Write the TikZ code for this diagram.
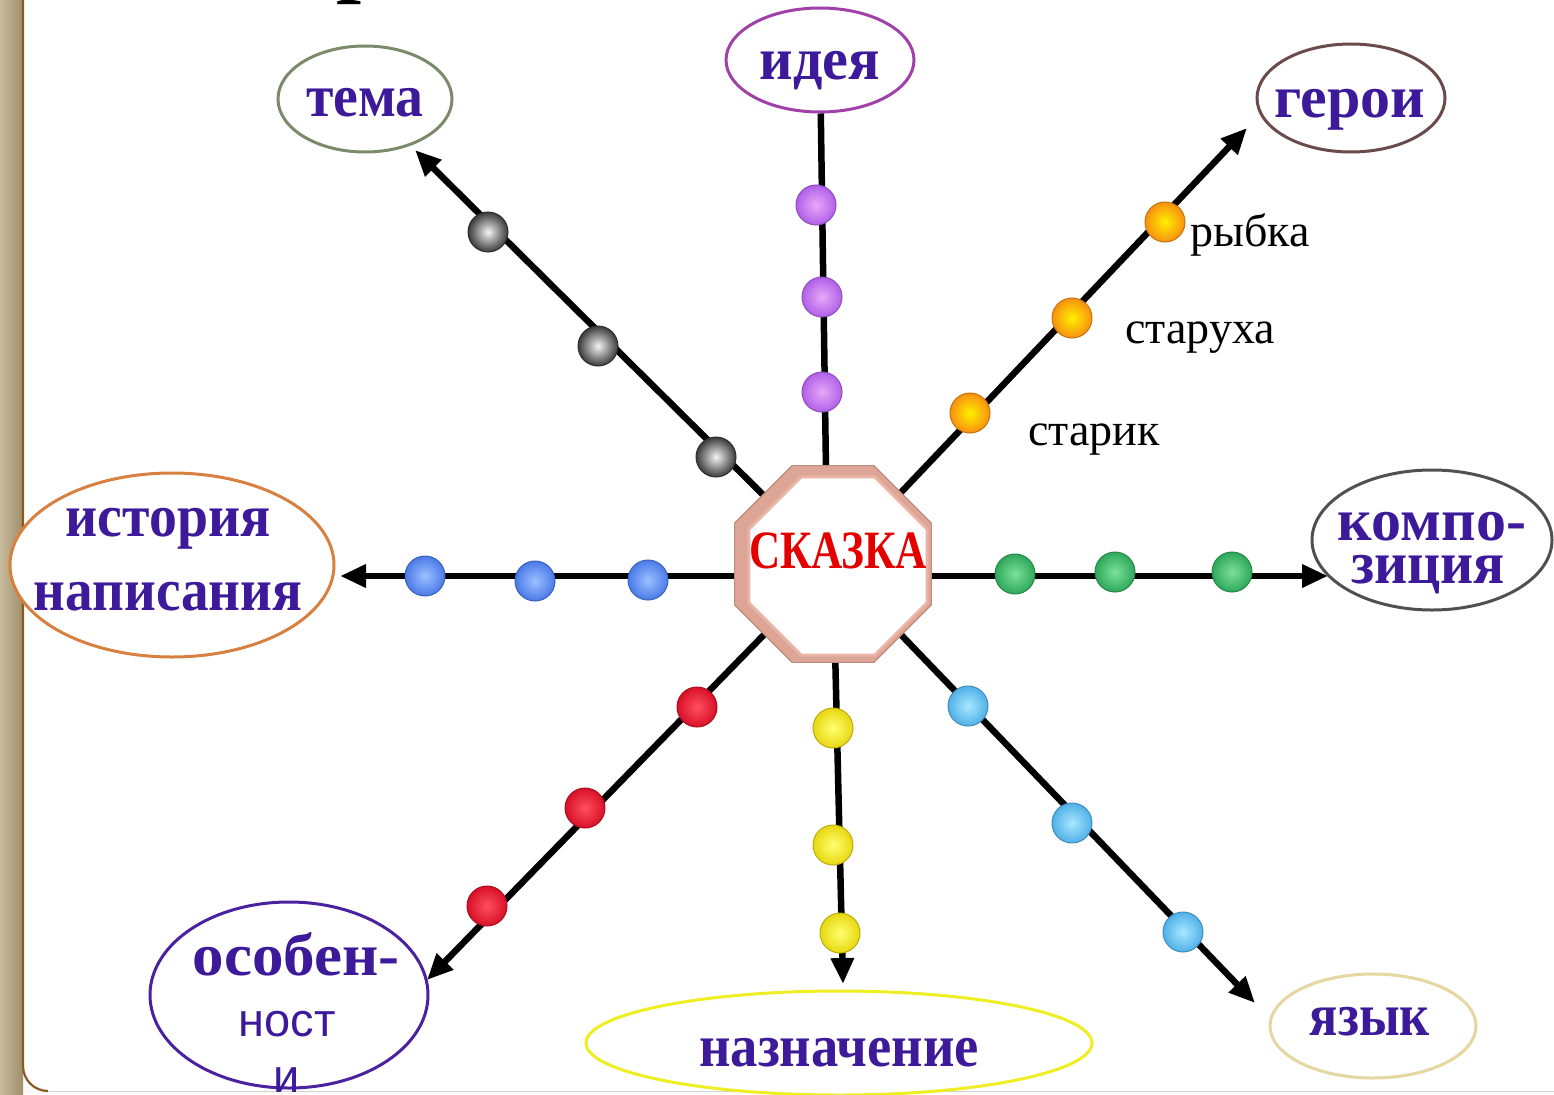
\documentclass[tikz,border=0pt]{standalone}
\usepackage{fontspec}
\setmainfont{Liberation Serif}
\newfontfamily\sansf{Liberation Sans}
\usetikzlibrary{shapes.geometric,arrows.meta}
\definecolor{txt}{HTML}{3D1A9A}
\definecolor{strip}{HTML}{C8BA9C}
\definecolor{stripd}{HTML}{A08E6C}
\definecolor{frameline}{HTML}{8A5A20}
\definecolor{octout}{HTML}{DDA595}
\definecolor{octin}{HTML}{E9B3A5}
\definecolor{cTema}{HTML}{7A8A6A}
\definecolor{cIdea}{HTML}{A040A8}
\definecolor{cGeroi}{HTML}{6A4A4A}
\definecolor{cHist}{HTML}{D88040}
\definecolor{cComp}{HTML}{505050}
\definecolor{cOsob}{HTML}{4A22A0}
\definecolor{cNazn}{HTML}{EEEE22}
\definecolor{cYaz}{HTML}{E6D6A0}
\definecolor{bPurple}{HTML}{B060E8}
\definecolor{bPurpleL}{HTML}{E8A8F8}
\definecolor{bBlack}{HTML}{3A3A3A}
\definecolor{bBlackL}{HTML}{F4F4F4}
\definecolor{bOrange}{HTML}{F89010}
\definecolor{bOrangeL}{HTML}{FFF000}
\definecolor{bBlue}{HTML}{4A7AE8}
\definecolor{bBlueL}{HTML}{9CC0FF}
\definecolor{bGreen}{HTML}{2EA85A}
\definecolor{bGreenL}{HTML}{7CE09C}
\definecolor{bRed}{HTML}{D81028}
\definecolor{bRedL}{HTML}{FF5060}
\definecolor{bYellow}{HTML}{E8D810}
\definecolor{bYellowL}{HTML}{FFFF70}
\definecolor{bCyan}{HTML}{50B0E8}
\definecolor{bCyanL}{HTML}{A8E8FF}
\tikzset{
  ell/.style 2 args={ellipse, draw, line width=3pt, fill=white, inner sep=0pt,
     minimum width=#1, minimum height=#2},
  ball/.style 2 args={circle, minimum size=40pt, inner sep=0pt,
     inner color=#2, outer color=#1, draw=#1!80!black, line width=1pt},
  ray/.style={line width=6.5pt, black, -{Triangle[length=26pt,width=22pt]}},
  plainray/.style={line width=6.5pt, black},
  lab/.style={font=\bfseries\fontsize{60}{60}\selectfont, text=txt, inner sep=0pt, anchor=base},
  small/.style={font=\fontsize{46}{46}\selectfont, text=black, inner sep=0pt, anchor=base west},
  octo/.style={regular polygon, regular polygon sides=8, minimum size=213pt, fill=octout, draw=octout!85!black, line width=1pt},
  octi/.style={regular polygon, regular polygon sides=8, minimum size=193pt, fill=white, draw=octin, line width=3pt},
}
\begin{document}
\begin{tikzpicture}[x=1pt,y=-1pt]
\useasboundingbox (0,0) rectangle (1554,1094);
% frame
\fill[white!96!gray] (0,0) rectangle (1554,1094);
\shade[left color=strip, right color=stripd] (0,0) rectangle (23,1094);
\fill[white] (23,-40) -- (23,1066) arc[start angle=180,end angle=90,radius=25] -- (1600,1091) -- (1600,-40) -- cycle;
\draw[frameline, line width=2.2pt] (23,-5) -- (23,1066) arc[start angle=180,end angle=90,radius=25];
\draw[gray!35, line width=1pt] (48,1091.5) -- (1560,1091.5);
% partial title glyph
\node[font=\bfseries\fontsize{90}{90}\selectfont, inner sep=0pt, anchor=base west] (title) at (336,-14) {р};

% centre octagon (node for the connectors)
\node[octo] (oct) at (833,564) {};

% ellipses
\node[ell={174pt}{106pt}, draw=cTema] (tema) at (365,99) {};
\node[ell={188pt}{104pt}, draw=cIdea] (idea) at (820,60) {};
\node[ell={188pt}{108pt}, draw=cGeroi] (geroi) at (1351,98) {};
\node[ell={324pt}{184pt}, draw=cHist] (hist) at (172,565) {};
\node[ell={240pt}{140pt}, draw=cComp] (comp) at (1432,540) {};
\node[ell={278pt}{186pt}, draw=cOsob] (osob) at (289,995) {};
\node[ell={506pt}{104pt}, draw=cNazn] (nazn) at (839,1043) {};
\node[ell={206pt}{104pt}, draw=cYaz] (yaz) at (1373,1026) {};

% arrow tips
\coordinate (tTema) at (415,150);
\coordinate (tGeroi) at (1247,128);
\coordinate (tHist) at (340,576);
\coordinate (tComp) at (1328,576);
\coordinate (tOsob) at (427,980);
\coordinate (tNazn) at (843,984);
\coordinate (tYaz) at (1255,1003);
\coordinate (sIdea) at (826,470);

% rays
\draw[ray] (oct) -- (tTema);
\draw[ray] (oct) -- (tGeroi);
\draw[ray] (tHist -| oct.west) -- (tHist);
\draw[ray] (tComp -| oct.east) -- (tComp);
\draw[ray] (oct) -- (tOsob);
\draw[ray] (oct) -- (tNazn);
\draw[ray] (oct) -- (tYaz);
\draw[plainray] (sIdea) -- (idea);

% balls
\node[ball={bBlack}{bBlackL}] (k1) at (488,232) {};
\node[ball={bBlack}{bBlackL}] (k2) at (598,346) {};
\node[ball={bBlack}{bBlackL}] (k3) at (716,457) {};
\node[ball={bPurple}{bPurpleL}] (p1) at (816,205) {};
\node[ball={bPurple}{bPurpleL}] (p2) at (822,297) {};
\node[ball={bPurple}{bPurpleL}] (p3) at (822,392) {};
\node[ball={bOrange}{bOrangeL}] (o1) at (1165,222) {};
\node[ball={bOrange}{bOrangeL}] (o2) at (1072,318) {};
\node[ball={bOrange}{bOrangeL}] (o3) at (970,413) {};
\node[ball={bBlue}{bBlueL}] (u1) at (425,576) {};
\node[ball={bBlue}{bBlueL}] (u2) at (535,581) {};
\node[ball={bBlue}{bBlueL}] (u3) at (648,580) {};
\node[ball={bGreen}{bGreenL}] (g1) at (1015,574) {};
\node[ball={bGreen}{bGreenL}] (g2) at (1115,572) {};
\node[ball={bGreen}{bGreenL}] (g3) at (1232,572) {};
\node[ball={bRed}{bRedL}] (r1) at (697,707) {};
\node[ball={bRed}{bRedL}] (r2) at (585,808) {};
\node[ball={bRed}{bRedL}] (r3) at (487,906) {};
\node[ball={bYellow}{bYellowL}] (y1) at (833,728) {};
\node[ball={bYellow}{bYellowL}] (y2) at (833,845) {};
\node[ball={bYellow}{bYellowL}] (y3) at (840,933) {};
\node[ball={bCyan}{bCyanL}] (c1) at (968,706) {};
\node[ball={bCyan}{bCyanL}] (c2) at (1072,823) {};
\node[ball={bCyan}{bCyanL}] (c3) at (1183,932) {};

% octagon on top of ray starts
\node[octo] (octTop) at (833,564) {};
\node[octi] (octw) at (838,566) {};
\node[font=\bfseries\fontsize{54}{54}\selectfont, text=red!90!black, inner sep=0pt, anchor=base] (skazka) at (838,568) {\scalebox{0.8}[1]{СКАЗКА}};

% labels
\node[lab] (Ltema) at (365,117) {\scalebox{0.93}[1]{тема}};
\node[lab] (Lidea) at (820,80) {\scalebox{0.97}[1]{идея}};
\node[lab] (Lgeroi) at (1350,118) {герои};
\node[lab] (Lhist1) at (168,536) {\scalebox{0.93}[1]{история}};
\node[lab] (Lhist2) at (168,610) {\scalebox{0.92}[1]{написания}};
\node[lab] (Lcomp1) at (1432,540) {компо-};
\node[lab] (Lcomp2) at (1428,583) {\scalebox{0.96}[1]{зиция}};
\node[lab] (Losob) at (296,975) {\scalebox{1.05}[1]{особен-}};
\node[font=\sansf\fontsize{47}{47}\selectfont, text=txt, inner sep=0pt, anchor=base] (Lnost) at (287,1036) {ност};
\node[font=\sansf\fontsize{47}{47}\selectfont, text=txt, inner sep=0pt, anchor=base] (Li) at (287,1092) {и};
\node[lab] (Lnazn) at (839,1066) {\scalebox{0.91}[1]{назначение}};
\node[lab] (Lyaz) at (1370,1035) {\scalebox{0.87}[1]{язык}};

\node[small] (ryb) at (1190,246) {рыбка};
\node[small] (star1) at (1125,343) {старуха};
\node[small] (star2) at (1028,445) {старик};
\end{tikzpicture}
\end{document}
